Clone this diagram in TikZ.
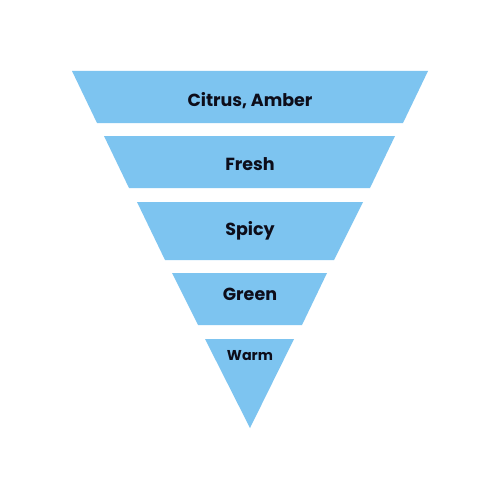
\documentclass[tikz,border=0pt]{standalone}
\usepackage{fontspec}
\setmainfont{Poppins}
\definecolor{layer}{HTML}{7DC4F0}
\definecolor{ink}{HTML}{0D0D1A}
\begin{document}
\begin{tikzpicture}[x=1pt,y=-1pt,
  layerbox/.style={fill=layer,draw=none},
  lbl/.style={text=ink,font=\bfseries\fontsize{17.5}{20}\selectfont,anchor=center,inner sep=0pt}]
\useasboundingbox (0,0) rectangle (500,500);
\fill[white] (0,0) rectangle (500,500);
\path[layerbox] (72,71) -- (428,71) -- (403,123) -- (97,123) -- cycle;
\path[layerbox] (104,136) -- (395,136) -- (370,188) -- (129,188) -- cycle;
\path[layerbox] (137,202) -- (363,202) -- (334,260) -- (165,260) -- cycle;
\path[layerbox] (172,273) -- (327,273) -- (302,325) -- (198,325) -- cycle;
\path[layerbox] (205,339) -- (294,339) -- (250,428) -- cycle;
\node[lbl] (t1) at (250,101.5) {\vphantom{p}Citrus, Amber};
\node[lbl] (t2) at (250,166.5) {\vphantom{p}Fresh};
\node[lbl] (t3) at (250,230.5) {Spicy};
\node[lbl] (t4) at (250,296.5) {\vphantom{p}Green};
\node[lbl,font=\bfseries\fontsize{14.3}{17}\selectfont] (t5) at (250,357.5) {\vphantom{p}Warm};
\end{tikzpicture}
\end{document}
